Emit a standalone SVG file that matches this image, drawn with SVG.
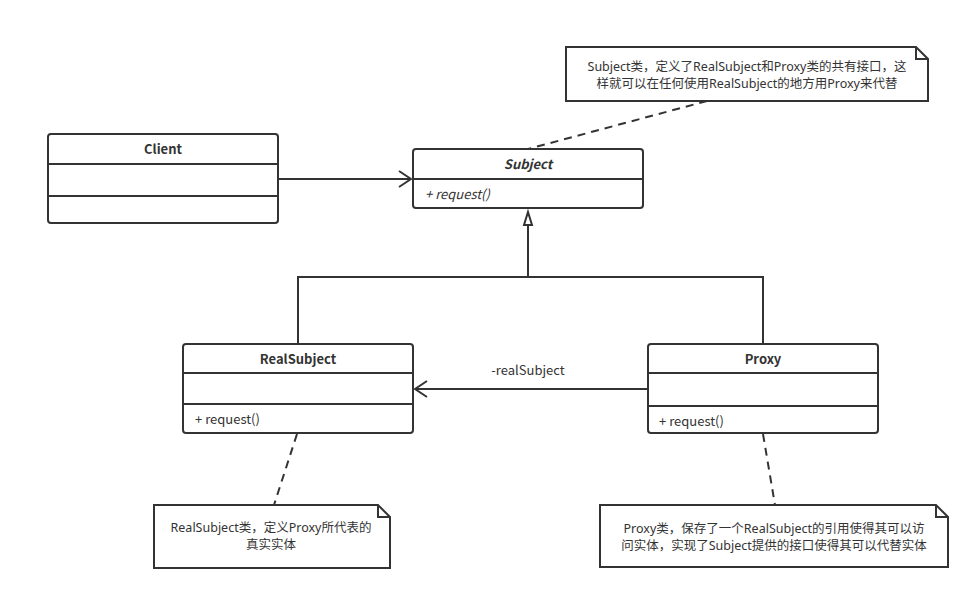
<svg xmlns="http://www.w3.org/2000/svg" width="980" height="599" viewBox="0 0 980 599">
<defs>
<style>
.box{fill:#fff;stroke:#333;stroke-width:2}
.ln{stroke:#333;stroke-width:2;fill:none}
.dash{stroke:#333;stroke-width:2;fill:none;stroke-dasharray:8 6}
text{font-family:"Noto Sans CJK SC","Noto Sans",sans-serif;font-size:13px;fill:#333}
.t{font-weight:bold;text-anchor:middle}
.c{text-anchor:middle}
.n{font-family:"Noto Sans","Noto Sans CJK SC",sans-serif;font-size:12.5px;text-anchor:middle}
.i{font-style:italic}
</style>
<marker id="open" markerWidth="14" markerHeight="18" refX="13" refY="9" orient="auto" markerUnits="userSpaceOnUse">
<path d="M1,1 L13,9 L1,17" fill="none" stroke="#333" stroke-width="2"/>
</marker>
</defs>
<rect width="980" height="599" fill="#fff"/>
<g id="connectors">
<line class="ln" x1="278" y1="179" x2="411" y2="179" marker-end="url(#open)"/>
<path class="ln" d="M298,344 V277 H763 V344"/>
<line class="ln" x1="528" y1="277" x2="528" y2="225"/>
<path d="M528,212 L532,225 L524,225 Z" fill="#fff" stroke="#333" stroke-width="2"/>
<line class="ln" x1="648" y1="389" x2="415" y2="389" marker-end="url(#open)"/>
<text class="c" x="528" y="375">-realSubject</text>
<line class="dash" x1="707" y1="101" x2="528" y2="149"/>
<line class="dash" x1="297" y1="434" x2="274" y2="505"/>
<line class="dash" x1="763" y1="434" x2="775" y2="505"/>
</g>
<g id="client">
<rect class="box" x="48" y="134" width="230" height="89" rx="3"/>
<line class="ln" x1="48" y1="164" x2="278" y2="164"/>
<line class="ln" x1="48" y1="196" x2="278" y2="196"/>
<text class="t" x="163" y="154">Client</text>
</g>
<g id="subject">
<rect class="box" x="413" y="149" width="230" height="59" rx="3"/>
<line class="ln" x1="413" y1="179" x2="643" y2="179"/>
<text class="t i" x="528" y="169">Subject</text>
<text class="i" x="425" y="199">+ request()</text>
</g>
<g id="realsubject">
<rect class="box" x="183" y="344" width="230" height="89" rx="3"/>
<line class="ln" x1="183" y1="373" x2="413" y2="373"/>
<line class="ln" x1="183" y1="404" x2="413" y2="404"/>
<text class="t" x="298" y="364">RealSubject</text>
<text x="195" y="424">+ request()</text>
</g>
<g id="proxy">
<rect class="box" x="648" y="344" width="230" height="89" rx="3"/>
<line class="ln" x1="648" y1="373" x2="878" y2="373"/>
<line class="ln" x1="648" y1="406" x2="878" y2="406"/>
<text class="t" x="763" y="364">Proxy</text>
<text x="659" y="426">+ request()</text>
</g>
<g id="note-subject">
<path class="box" d="M566,47 H916 L928,59 V101 H566 Z"/>
<path class="ln" d="M916,47 V59 H928"/>
<text class="n" x="747" y="71">Subject类，定义了RealSubject和Proxy类的共有接口，这</text>
<text class="n" x="747" y="88">样就可以在任何使用RealSubject的地方用Proxy来代替</text>
</g>
<g id="note-realsubject">
<path class="box" d="M154,505 H378 L390,517 V568 H154 Z"/>
<path class="ln" d="M378,505 V517 H390"/>
<text class="n" x="271" y="532">RealSubject类，定义Proxy所代表的</text>
<text class="n" x="271" y="549">真实实体</text>
</g>
<g id="note-proxy">
<path class="box" d="M600,505 H936 L948,517 V567 H600 Z"/>
<path class="ln" d="M936,505 V517 H948"/>
<text class="n" x="774" y="533">Proxy类，保存了一个RealSubject的引用使得其可以访</text>
<text class="n" x="774" y="550">问实体，实现了Subject提供的接口使得其可以代替实体</text>
</g>
</svg>
